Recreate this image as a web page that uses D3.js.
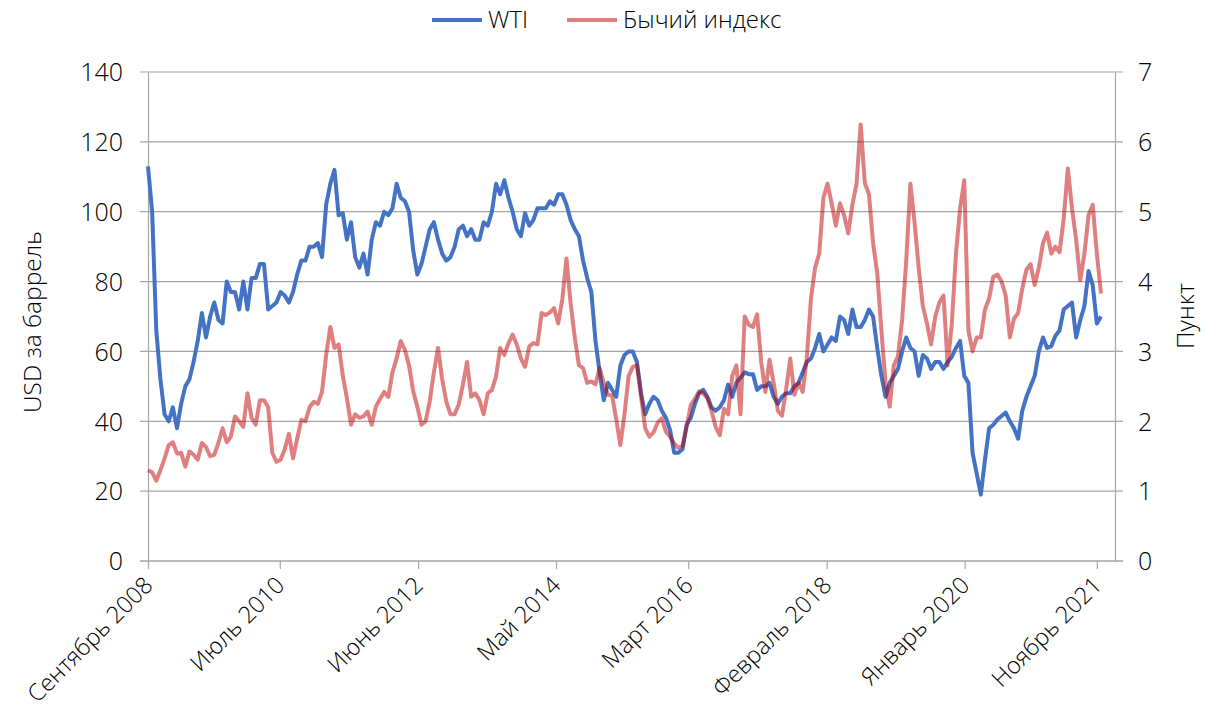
<!DOCTYPE html>
<html>
<head>
<meta charset="utf-8">
<script src="https://cdn.jsdelivr.net/npm/d3@7"></script>
<style>
  body { margin: 0; background: #fff; }
  text { font-family: "Open Sans", "Noto Sans", sans-serif; font-weight: 300; fill: #000; }
</style>
</head>
<body>
<div id="chart"></div>
<script>
// one value every 3 weeks starting 2008-09-01
let startDate = "2008-09-01";
let stepDays = 21;

let wti = [
  113, 100, 66, 52, 42, 40, 44, 38, 45, 50, 52, 57, 63, 71, 64, 70, 74, 69, 68, 80,
  77, 77, 72, 80, 72, 81, 81, 85, 85, 72, 73, 74, 77, 76, 74, 77, 82, 86, 86, 90,
  90, 91, 87, 102, 108, 112, 99, 99.6, 92, 97, 87, 84, 88, 82, 92, 97, 96, 100, 99, 101,
  108, 104, 103, 100, 89, 82, 85, 90, 95, 97, 92, 88, 86, 87, 90, 95, 96, 93, 95, 92,
  92, 97, 96, 100, 108, 105, 109, 104, 100, 95, 93, 99.6, 96, 97.6, 101, 101, 101, 103, 102, 105,
  105, 102, 97.6, 95, 93, 86, 81, 77, 63, 54, 46, 51, 49, 47, 56, 59, 60, 60, 57, 48,
  42, 45, 47, 46, 43, 41, 37.5, 31, 31, 32, 39, 41, 45, 48, 49, 47, 44, 43, 44, 46,
  50.5, 47, 51, 52.5, 54, 53.5, 53.5, 49, 50, 50, 51, 47, 45, 47, 48, 48, 50, 51, 54, 57,
  58, 61, 65, 60, 62, 64, 63, 70, 69, 65, 72, 67, 67, 69, 72, 70, 61, 53, 47, 51,
  53, 55, 60, 64, 61, 60, 53, 59, 58, 55, 57, 57, 55, 57, 58.5, 61, 63, 53, 51, 31,
  25, 19, 29, 38, 39, 40.5, 41.5, 42.5, 40, 38, 35, 43, 47, 50, 53, 60, 64, 61, 61.5, 64.5,
  66, 72, 73, 74, 64, 69, 73, 83, 79, 68, 70
];

let bull = [
  1.30, 1.27, 1.15, 1.30, 1.47, 1.66, 1.70, 1.54, 1.55, 1.35, 1.57, 1.52, 1.45, 1.69, 1.63, 1.50, 1.52, 1.69, 1.90, 1.70,
  1.78, 2.07, 2.00, 1.92, 2.40, 2.05, 1.95, 2.30, 2.30, 2.20, 1.55, 1.42, 1.45, 1.60, 1.82, 1.47, 1.75, 2.02, 2.00, 2.20,
  2.28, 2.25, 2.42, 2.95, 3.35, 3.05, 3.10, 2.66, 2.33, 1.95, 2.10, 2.05, 2.07, 2.14, 1.95, 2.21, 2.32, 2.42, 2.35, 2.70,
  2.90, 3.15, 3.02, 2.80, 2.43, 2.21, 1.95, 2.00, 2.29, 2.70, 3.05, 2.60, 2.28, 2.10, 2.10, 2.24, 2.52, 2.85, 2.35, 2.40,
  2.30, 2.10, 2.40, 2.45, 2.64, 3.05, 2.95, 3.12, 3.24, 3.10, 2.90, 2.78, 3.07, 3.12, 3.10, 3.55, 3.52, 3.56, 3.62, 3.40,
  3.75, 4.33, 3.69, 3.20, 2.80, 2.76, 2.55, 2.57, 2.53, 2.76, 2.55, 2.38, 2.37, 2.03, 1.66, 2.10, 2.65, 2.78, 2.80, 2.35,
  1.90, 1.78, 1.84, 1.98, 2.04, 1.85, 1.78, 1.68, 1.62, 1.65, 1.92, 2.23, 2.32, 2.43, 2.40, 2.33, 2.15, 1.92, 1.80, 2.18,
  2.10, 2.65, 2.80, 2.10, 3.50, 3.38, 3.35, 3.53, 2.85, 2.42, 2.88, 2.55, 2.15, 2.08, 2.45, 2.90, 2.38, 2.55, 2.42, 2.90,
  3.75, 4.20, 4.40, 5.20, 5.40, 5.12, 4.80, 5.12, 4.95, 4.69, 5.10, 5.40, 6.25, 5.41, 5.25, 4.55, 4.12, 3.30, 2.55, 2.21,
  2.80, 2.93, 3.45, 4.30, 5.40, 4.85, 4.20, 3.65, 3.40, 3.10, 3.50, 3.70, 3.80, 2.80, 3.40, 4.40, 5.05, 5.45, 3.30, 3.00,
  3.20, 3.20, 3.60, 3.76, 4.07, 4.10, 4.00, 3.80, 3.20, 3.47, 3.55, 3.90, 4.17, 4.25, 3.95, 4.20, 4.55, 4.70, 4.40, 4.50,
  4.42, 4.90, 5.62, 5.05, 4.60, 4.02, 4.40, 4.95, 5.10, 4.40, 3.83
];

let tickDates = ["2008-09-01", "2010-07-01", "2012-06-01", "2014-05-01", "2016-03-01", "2018-02-01", "2020-01-01", "2021-11-01"];
let tickLabels = ["Сентябрь 2008", "Июль 2010", "Июнь 2012", "Май 2014", "Март 2016", "Февраль 2018", "Январь 2020", "Ноябрь 2021"];
let leftTicks = [0, 20, 40, 60, 80, 100, 120, 140];
let rightTicks = [0, 1, 2, 3, 4, 5, 6, 7];
let seriesNames = ["WTI", "Бычий индекс"];

function init() {
  let margin = {top: 72, left: 148},
      width = 1115 - margin.left,
      height = 561 - margin.top;

  let svg = d3.select("#chart")
    .append("svg")
      .attr("width", 1205)
      .attr("height", 711);

  let g = svg.append("g")
      .attr("transform", "translate(" + margin.left + "," + margin.top + ")");

  let parse = d3.utcParse("%Y-%m-%d");
  let t0 = parse(startDate);
  let dates = wti.map((d, i) => d3.utcDay.offset(t0, i * stepDays));

  let x = d3.scaleUtc()
    .domain([parse("2008-09-01"), parse("2022-02-01")])
    .range([0, width]);

  let y = d3.scaleLinear().domain([0, 140]).range([height, 0]);
  let y2 = d3.scaleLinear().domain([0, 7]).range([height, 0]);

  // gridlines, running a bit past both axes like tick marks
  g.append("g")
    .selectAll("line")
    .data(leftTicks)
    .enter()
    .append("line")
      .attr("x1", -8)
      .attr("x2", width + 8)
      .attr("y1", d => y(d))
      .attr("y2", d => y(d))
      .style("stroke", "#a6a6a6")
      .style("stroke-width", 1.2);

  // left axis
  let yAxis = g.append("g")
    .call(d3.axisLeft(y).tickValues(leftTicks).tickSize(0).tickPadding(25));
  yAxis.select(".domain").style("stroke", "#a6a6a6").style("stroke-width", 1.2);
  yAxis.selectAll("text").style("font-size", "25px").attr("dy", "0.35em");

  // right axis
  let y2Axis = g.append("g")
    .attr("transform", "translate(" + width + ",0)")
    .call(d3.axisRight(y2).tickValues(rightTicks).tickFormat(d3.format("d")).tickSize(0).tickPadding(23));
  y2Axis.select(".domain").style("stroke", "#a6a6a6").style("stroke-width", 1.2);
  y2Axis.selectAll("text").style("font-size", "25px").attr("dy", "0.35em");

  // bottom axis
  let xAxis = g.append("g")
    .attr("transform", "translate(0," + height + ")")
    .call(d3.axisBottom(x)
      .tickValues(tickDates.map(parse))
      .tickFormat((d, i) => tickLabels[i])
      .tickSize(8)
      .tickSizeOuter(0));
  xAxis.select(".domain").style("stroke", "#a6a6a6").style("stroke-width", 1.2)
    .attr("d", "M-8,0H" + (width + 8));
  xAxis.selectAll(".tick line").style("stroke", "#a6a6a6").style("stroke-width", 1.2);
  xAxis.selectAll("text")
    .style("font-size", "23.5px")
    .style("text-anchor", "end")
    .attr("dy", "0")
    .attr("transform", "translate(-2,18) rotate(-45)");

  // lines
  let lineWti = d3.line()
    .x((d, i) => x(dates[i]))
    .y(d => y(d));
  let lineBull = d3.line()
    .x((d, i) => x(dates[i]))
    .y(d => y2(d));

  g.append("path")
    .datum(wti)
    .attr("fill", "none")
    .attr("stroke", "#4472c4")
    .attr("stroke-width", 4)
    .attr("stroke-linejoin", "round")
    .attr("d", lineWti);

  g.append("path")
    .datum(bull)
    .attr("fill", "none")
    .attr("stroke", "#c00000")
    .attr("stroke-opacity", 0.5)
    .attr("stroke-width", 4)
    .attr("stroke-linejoin", "round")
    .attr("d", lineBull);

  // axis titles
  svg.append("text")
    .attr("transform", "translate(41,322) rotate(-90)")
    .style("text-anchor", "middle")
    .style("font-size", "24.5px")
    .text("USD за баррель");

  svg.append("text")
    .attr("transform", "translate(1194,316) rotate(-90)")
    .style("text-anchor", "middle")
    .style("font-size", "24.5px")
    .text("Пункт");

  // legend
  let legendColors = ["#4472c4", "#c00000"];
  let legendX = [432, 567];
  let legend = svg.append("g");
  seriesNames.forEach((name, i) => {
    legend.append("line")
      .attr("x1", legendX[i])
      .attr("x2", legendX[i] + 50)
      .attr("y1", 20)
      .attr("y2", 20)
      .style("stroke", legendColors[i])
      .style("stroke-opacity", i === 1 ? 0.5 : 1)
      .style("stroke-width", 4);
    legend.append("text")
      .attr("x", legendX[i] + 56)
      .attr("y", 28)
      .style("font-size", "24px")
      .text(name);
  });
}

init();
</script>
</body>
</html>
